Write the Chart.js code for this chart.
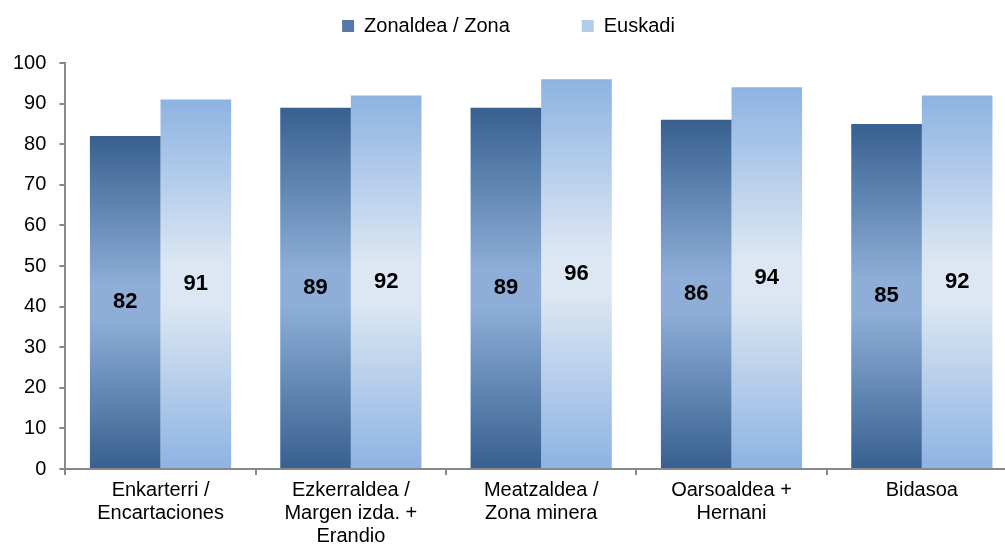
<!DOCTYPE html>
<html>
<head>
<meta charset="utf-8">
<script src="https://cdn.jsdelivr.net/npm/chart.js@4/dist/chart.umd.min.js"></script>
<style>
    html, body { margin: 0; padding: 0; background: #fff; overflow: hidden; }
    #wrap { position: relative; width: 1022px; height: 552px; }
</style>
</head>
<body>
<div id="wrap"><canvas id="chart"></canvas></div>
<script>
// Data
const categories = [
    ['Enkarterri /', 'Encartaciones'],
    ['Ezkerraldea /', 'Margen izda. +', 'Erandio'],
    ['Meatzaldea /', 'Zona minera'],
    ['Oarsoaldea +', 'Hernani'],
    ['Bidasoa']
];
const zonaValues = [82, 89, 89, 86, 85];
const euskadiValues = [91, 92, 96, 94, 92];
const seriesNames = ['Zonaldea / Zona', 'Euskadi'];

const FONT = '"Liberation Sans", Arial, sans-serif';
const AXIS_GREY = '#898989';

// Vertical gradient per bar: edge colour at top and bottom, light in the middle
function barGradient(edge, mid) {
    return function(context) {
        const chart = context.chart;
        if (context.type !== 'data' || !chart.chartArea) return edge;
        const yScale = chart.scales.y;
        const top = yScale.getPixelForValue(context.raw);
        const bottom = yScale.getPixelForValue(0);
        const g = chart.ctx.createLinearGradient(0, top, 0, bottom);
        g.addColorStop(0, edge);
        g.addColorStop(0.45, mid);
        g.addColorStop(0.55, mid);
        g.addColorStop(1, edge);
        return g;
    };
}

// Value labels in the middle of each bar
const valueLabels = {
    id: 'valueLabels',
    afterDatasetsDraw(chart) {
        const ctx = chart.ctx;
        ctx.save();
        ctx.font = 'bold 22px ' + FONT;
        ctx.fillStyle = '#000';
        ctx.textAlign = 'center';
        ctx.textBaseline = 'middle';
        chart.data.datasets.forEach((ds, i) => {
            const meta = chart.getDatasetMeta(i);
            meta.data.forEach((bar, j) => {
                ctx.fillText(String(ds.data[j]), bar.x, (bar.y + bar.base) / 2);
            });
        });
        ctx.restore();
    }
};

// Extra room between the legend and the plot area
const legendGap = {
    id: 'legendGap',
    beforeLayout(chart) {
        const lg = chart.legend;
        if (lg && !lg._gapPatched) {
            const fit = lg.fit;
            lg.fit = function() {
                fit.call(this);
                this.height += 17;
            };
            lg._gapPatched = true;
        }
    }
};

new Chart(document.getElementById('chart'), {
    type: 'bar',
    data: {
        labels: categories,
        datasets: [
            {
                label: seriesNames[0],
                data: zonaValues,
                backgroundColor: barGradient('#37608f', '#8eaed8'),
                borderWidth: 0
            },
            {
                label: seriesNames[1],
                data: euskadiValues,
                backgroundColor: barGradient('#8db3e2', '#dde7f3'),
                borderWidth: 0
            }
        ]
    },
    options: {
        responsive: true,
        maintainAspectRatio: false,
        animation: false,
        layout: { padding: { top: 4, right: 5, left: 0, bottom: 0 } },
        datasets: {
            bar: { categoryPercentage: 0.742, barPercentage: 1.0 }
        },
        plugins: {
            tooltip: { enabled: false },
            legend: {
                position: 'top',
                labels: {
                    font: { family: FONT, size: 20 },
                    color: '#000',
                    boxWidth: 12,
                    boxHeight: 12,
                    padding: 12,
                    generateLabels(chart) {
                        const items = Chart.defaults.plugins.legend.labels.generateLabels(chart);
                        items[0].text = items[0].text + '\u2003\u2003\u2003';
                        items[0].fillStyle = '#5479a8';
                        items[1].fillStyle = '#b3cbea';
                        return items;
                    }
                }
            }
        },
        scales: {
            x: {
                grid: {
                    display: true,
                    drawOnChartArea: false,
                    tickLength: 6,
                    color: AXIS_GREY,
                    lineWidth: 2
                },
                border: { display: true, color: AXIS_GREY, width: 2 },
                ticks: {
                    font: { family: FONT, size: 20, lineHeight: 1.15 },
                    color: '#000',
                    maxRotation: 0,
                    autoSkip: false,
                    padding: 4
                }
            },
            y: {
                min: 0,
                max: 100,
                grid: {
                    display: true,
                    drawOnChartArea: false,
                    tickLength: 6,
                    color: AXIS_GREY,
                    lineWidth: 2
                },
                border: { display: true, color: AXIS_GREY, width: 2 },
                ticks: {
                    stepSize: 10,
                    font: { family: FONT, size: 20 },
                    color: '#000',
                    padding: 13
                }
            }
        }
    },
    plugins: [valueLabels, legendGap]
});
</script>
</body>
</html>
